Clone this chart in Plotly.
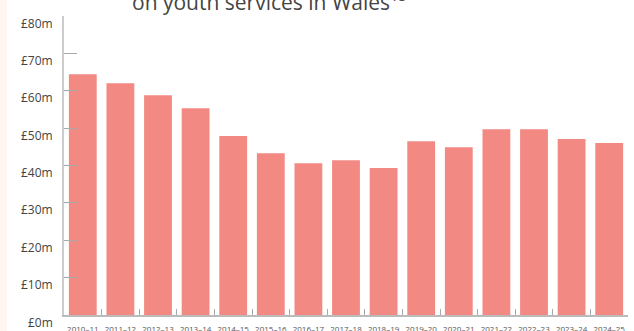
import plotly.graph_objects as go

years = ["2010–11", "2011–12", "2012–13", "2013–14", "2014–15", "2015–16", "2016–17",
         "2017–18", "2018–19", "2019–20", "2020–21", "2021–22", "2022–23", "2023–24", "2024–25"]
spend = [64.4, 62.0, 58.8, 55.3, 47.9, 43.3, 40.6, 41.4, 39.3, 46.5, 44.9, 49.7, 49.7, 47.1, 46.0]
ytick_vals = [0, 10, 20, 30, 40, 50, 60, 70, 80]
ytick_text = ["£0m", "£10m", "£20m", "£30m", "£40m", "£50m", "£60m", "£70m", "£80m"]

BAR = "#f28983"
FONT = "Open Sans"

fig = go.Figure(go.Bar(x=years, y=spend, marker=dict(color=BAR, line=dict(width=0)),
                       hoverinfo="x+y"))

fig.update_layout(
    width=634, height=331,
    margin=dict(l=64, r=6, t=16, b=16, autoexpand=False),
    paper_bgcolor="white", plot_bgcolor="white",
    bargap=0.26,
    showlegend=False,
    font=dict(family=FONT, color="#444"),
)
fig.update_xaxes(
    showline=True, linecolor="#bbbbbb", linewidth=1.5,
    ticks="inside", tickson="boundaries", ticklen=6, tickcolor="#aaaaaa", tickwidth=1,
    tickfont=dict(size=8, color="#555"), ticklabelstandoff=6, tickangle=0,
    showgrid=False, zeroline=False, fixedrange=True, automargin=False,
)
fig.update_yaxes(
    range=[0, 80], tickvals=ytick_vals, ticktext=ytick_text, showticklabels=False,
    showline=True, linecolor="#cccccc", linewidth=1.5,
    ticks="inside", ticklen=13, tickcolor="#aaaaaa", tickwidth=1,
    showgrid=False, zeroline=False, fixedrange=True, automargin=False,
)
# y tick labels (sit slightly below their tick marks, as in the original)
for v, t in zip(ytick_vals, ytick_text):
    fig.add_annotation(text=t, xref="paper", x=0, xshift=-9, xanchor="right",
                       yref="y", y=v, yshift=-7, yanchor="middle", showarrow=False,
                       font=dict(size=12, color="#444", family=FONT))
# left page strip
fig.add_shape(type="rect", xref="paper", yref="paper", x0=-64/564, x1=-57/564, y0=-1, y1=2,
              fillcolor="#fff6f1", line=dict(width=0), layer="below")
# title (partly cut off at top)
fig.add_annotation(text="on youth services in Wales<sup>15</sup>", xref="paper", yref="paper",
                   x=(269-64)/564, y=1 + (16-0)/299, xanchor="center", yanchor="middle",
                   showarrow=False, font=dict(size=21, color="#444", family=FONT))

fig.write_html("out.html")
